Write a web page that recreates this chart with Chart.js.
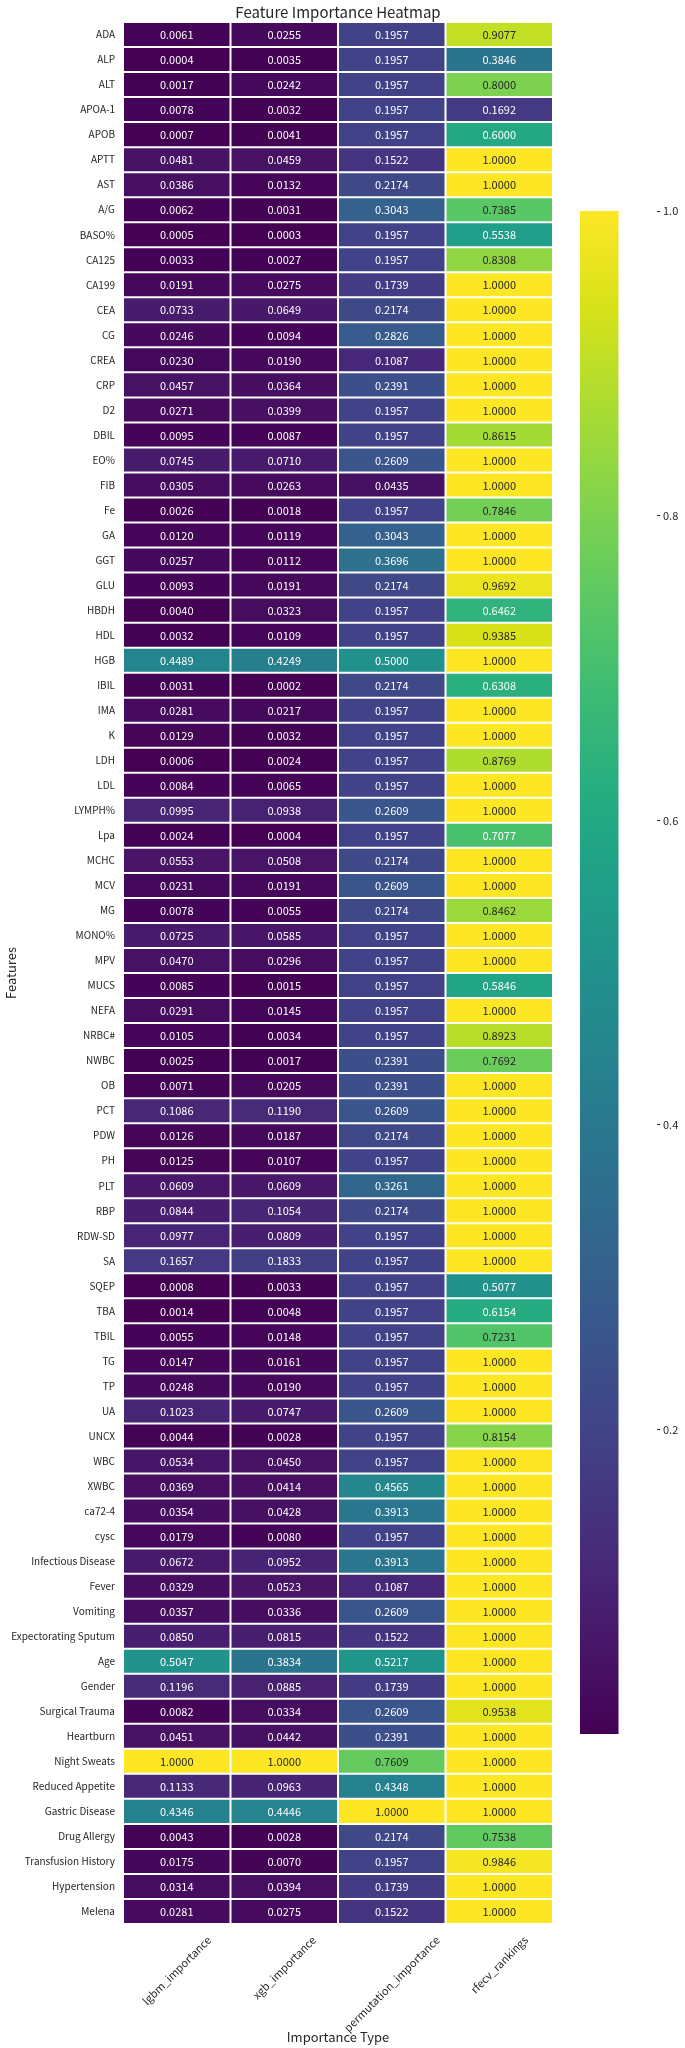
<!DOCTYPE html>
<html><head><meta charset="utf-8">
<script src="https://cdn.jsdelivr.net/npm/chart.js@4.4.1/dist/chart.umd.min.js"></script>
<style>
html,body{margin:0;padding:0;background:#fff;}
#wrap{position:relative;width:685px;height:2048px;overflow:hidden;}
#main{position:absolute;left:0;top:0;width:685px;height:2048px;}
#cb{position:absolute;left:560px;top:190px;width:125px;height:1560px;}
</style></head><body>
<div id="wrap"><canvas id="main" width="685" height="2048"></canvas><canvas id="cb" width="125" height="1560"></canvas></div>
<script>
const features = ['ADA','ALP','ALT','APOA-1','APOB','APTT','AST','A/G','BASO%','CA125','CA199','CEA','CG','CREA','CRP','D2','DBIL','EO%','FIB','Fe','GA','GGT','GLU','HBDH','HDL','HGB','IBIL','IMA','K','LDH','LDL','LYMPH%','Lpa','MCHC','MCV','MG','MONO%','MPV','MUCS','NEFA','NRBC#','NWBC','OB','PCT','PDW','PH','PLT','RBP','RDW-SD','SA','SQEP','TBA','TBIL','TG','TP','UA','UNCX','WBC','XWBC','ca72-4','cysc','Infectious Disease','Fever','Vomiting','Expectorating Sputum','Age','Gender','Surgical Trauma','Heartburn','Night Sweats','Reduced Appetite','Gastric Disease','Drug Allergy','Transfusion History','Hypertension','Melena'];
const columns = ['lgbm_importance','xgb_importance','permutation_importance','rfecv_rankings'];
const lgbm = [0.0061,0.0004,0.0017,0.0078,0.0007,0.0481,0.0386,0.0062,0.0005,0.0033,0.0191,0.0733,0.0246,0.0230,0.0457,0.0271,0.0095,0.0745,0.0305,0.0026,0.0120,0.0257,0.0093,0.0040,0.0032,0.4489,0.0031,0.0281,0.0129,0.0006,0.0084,0.0995,0.0024,0.0553,0.0231,0.0078,0.0725,0.0470,0.0085,0.0291,0.0105,0.0025,0.0071,0.1086,0.0126,0.0125,0.0609,0.0844,0.0977,0.1657,0.0008,0.0014,0.0055,0.0147,0.0248,0.1023,0.0044,0.0534,0.0369,0.0354,0.0179,0.0672,0.0329,0.0357,0.0850,0.5047,0.1196,0.0082,0.0451,1.0000,0.1133,0.4346,0.0043,0.0175,0.0314,0.0281];
const xgb = [0.0255,0.0035,0.0242,0.0032,0.0041,0.0459,0.0132,0.0031,0.0003,0.0027,0.0275,0.0649,0.0094,0.0190,0.0364,0.0399,0.0087,0.0710,0.0263,0.0018,0.0119,0.0112,0.0191,0.0323,0.0109,0.4249,0.0002,0.0217,0.0032,0.0024,0.0065,0.0938,0.0004,0.0508,0.0191,0.0055,0.0585,0.0296,0.0015,0.0145,0.0034,0.0017,0.0205,0.1190,0.0187,0.0107,0.0609,0.1054,0.0809,0.1833,0.0033,0.0048,0.0148,0.0161,0.0190,0.0747,0.0028,0.0450,0.0414,0.0428,0.0080,0.0952,0.0523,0.0336,0.0815,0.3834,0.0885,0.0334,0.0442,1.0000,0.0963,0.4446,0.0028,0.0070,0.0394,0.0275];
const perm = [0.1957,0.1957,0.1957,0.1957,0.1957,0.1522,0.2174,0.3043,0.1957,0.1957,0.1739,0.2174,0.2826,0.1087,0.2391,0.1957,0.1957,0.2609,0.0435,0.1957,0.3043,0.3696,0.2174,0.1957,0.1957,0.5000,0.2174,0.1957,0.1957,0.1957,0.1957,0.2609,0.1957,0.2174,0.2609,0.2174,0.1957,0.1957,0.1957,0.1957,0.1957,0.2391,0.2391,0.2609,0.2174,0.1957,0.3261,0.2174,0.1957,0.1957,0.1957,0.1957,0.1957,0.1957,0.1957,0.2609,0.1957,0.1957,0.4565,0.3913,0.1957,0.3913,0.1087,0.2609,0.1522,0.5217,0.1739,0.2609,0.2391,0.7609,0.4348,1.0000,0.2174,0.1957,0.1739,0.1522];
const rfecv = [0.9077,0.3846,0.8000,0.1692,0.6000,1.0000,1.0000,0.7385,0.5538,0.8308,1.0000,1.0000,1.0000,1.0000,1.0000,1.0000,0.8615,1.0000,1.0000,0.7846,1.0000,1.0000,0.9692,0.6462,0.9385,1.0000,0.6308,1.0000,1.0000,0.8769,1.0000,1.0000,0.7077,1.0000,1.0000,0.8462,1.0000,1.0000,0.5846,1.0000,0.8923,0.7692,1.0000,1.0000,1.0000,1.0000,1.0000,1.0000,1.0000,1.0000,0.5077,0.6154,0.7231,1.0000,1.0000,1.0000,0.8154,1.0000,1.0000,1.0000,1.0000,1.0000,1.0000,1.0000,1.0000,1.0000,1.0000,0.9538,1.0000,1.0000,1.0000,1.0000,0.7538,0.9846,1.0000,1.0000];
const colorbarTicks = [0.2,0.4,0.6,0.8,1.0];

const series = [lgbm, xgb, perm, rfecv];
const vmin = Math.min(...series.flat());
const vmax = Math.max(...series.flat());
const FONT = "'Noto Sans CJK SC','Noto Sans',sans-serif";

const VIR = ['#440154','#48186a','#472d7b','#424086','#3b528b','#33638d','#2c728e','#26828e','#21918c','#1fa088','#28ae80','#3fbc73','#5ec962','#84d44b','#addc30','#d8e219','#fde725'];
function hexRgb(h){return [parseInt(h.slice(1,3),16),parseInt(h.slice(3,5),16),parseInt(h.slice(5,7),16)];}
function viridisRgb(t){
  t = Math.max(0, Math.min(1, t));
  const p = t * 16, i = Math.min(15, Math.floor(p)), f = p - i;
  const a = hexRgb(VIR[i]), b = hexRgb(VIR[i+1]);
  return a.map((v,k)=>Math.round(v + (b[k]-v)*f));
}
function norm(v){return (v - vmin) / (vmax - vmin);}
function cellColor(v){const c = viridisRgb(norm(v)); return `rgb(${c[0]},${c[1]},${c[2]})`;}
function textColor(v){
  const c = viridisRgb(norm(v)).map(x=>{x/=255; return x<=0.03928 ? x/12.92 : Math.pow((x+0.055)/1.055,2.4);});
  const lum = 0.2126*c[0] + 0.7152*c[1] + 0.0722*c[2];
  return lum > 0.408 ? '#262626' : '#ffffff';
}

const heatPlugin = {
  id: 'heatText',
  afterDatasetsDraw(chart){
    const ctx = chart.ctx;
    ctx.save();
    ctx.font = '11px ' + FONT;
    ctx.textAlign = 'center';
    ctx.textBaseline = 'middle';
    series.forEach((vals, d) => {
      const meta = chart.getDatasetMeta(d);
      meta.data.forEach((el, i) => {
        const p = el.getCenterPoint();
        ctx.fillStyle = textColor(vals[i]);
        ctx.fillText(vals[i].toFixed(4), p.x, p.y + 0.5);
      });
    });
    ctx.restore();
  },
  afterDraw(chart){
    const ctx = chart.ctx, ca = chart.chartArea, xs = chart.scales.x;
    ctx.save();
    ctx.fillStyle = '#262626';
    ctx.font = '15px ' + FONT;
    ctx.textAlign = 'center';
    ctx.textBaseline = 'middle';
    ctx.fillText('Feature Importance Heatmap', (ca.left + ca.right) / 2, 12);
    ctx.font = '11px ' + FONT;
    const top = ca.bottom + 10, h = 11;
    columns.forEach((lab, i) => {
      const w = ctx.measureText(lab).width;
      const half = (w + h) / (2 * Math.SQRT2);
      ctx.save();
      ctx.translate(xs.getPixelForValue(i + 0.5), top + half);
      ctx.rotate(-Math.PI / 4);
      ctx.fillText(lab, 0, 0);
      ctx.restore();
    });
    ctx.restore();
  }
};

new Chart(document.getElementById('main'), {
  type: 'bar',
  data: {
    labels: features,
    datasets: series.map((vals, c) => ({
      label: columns[c],
      data: vals.map(() => [c, c + 1]),
      backgroundColor: vals.map(cellColor),
      borderColor: '#ffffff',
      borderWidth: 1,
      borderSkipped: false,
      inflateAmount: 0,
      grouped: false,
      barPercentage: 1,
      categoryPercentage: 1
    }))
  },
  options: {
    indexAxis: 'y',
    responsive: false,
    animation: false,
    devicePixelRatio: 1,
    layout: { padding: { top: 22, right: 132, left: 0, bottom: 0 } },
    plugins: { legend: { display: false }, tooltip: { enabled: false }, title: { display: false } },
    scales: {
      x: {
        type: 'linear', min: 0, max: 4,
        grid: { display: false }, border: { display: false },
        ticks: { display: false },
        title: { display: true, text: 'Importance Type', color: '#262626', font: { family: FONT, size: 13 }, padding: { top: 0, bottom: 3 } },
        afterFit(s){ s.height = 124; }
      },
      y: {
        type: 'category',
        grid: { display: false, drawTicks: false }, border: { display: false },
        ticks: { autoSkip: false, padding: 8, color: '#262626', font: { family: FONT, size: 10 } },
        title: { display: true, text: 'Features', color: '#262626', font: { family: FONT, size: 13 }, padding: { top: 3, bottom: 0 } },
        afterFit(s){ s.width = 123; }
      }
    }
  },
  plugins: [heatPlugin]
});

function cbGradient(ctx){
  const chart = ctx.chart, ca = chart.chartArea;
  if (!ca) return VIR[0];
  const g = chart.ctx.createLinearGradient(0, ca.bottom, 0, ca.top);
  VIR.forEach((c, i) => g.addColorStop(i / 16, c));
  return g;
}

new Chart(document.getElementById('cb'), {
  type: 'bar',
  data: {
    labels: ['cb'],
    datasets: [{ data: [[vmin, vmax]], backgroundColor: cbGradient, borderWidth: 0, inflateAmount: 0, barPercentage: 1, categoryPercentage: 1 }]
  },
  options: {
    responsive: false,
    animation: false,
    devicePixelRatio: 1,
    layout: { padding: { left: 20, top: 21, bottom: 16, right: 0 } },
    plugins: { legend: { display: false }, tooltip: { enabled: false } },
    scales: {
      x: { type: 'category', display: false, offset: false },
      y: {
        type: 'linear', position: 'right', min: vmin, max: vmax,
        afterBuildTicks(s){ s.ticks = colorbarTicks.map(v => ({ value: v })); },
        ticks: { padding: 3, color: '#262626', font: { family: FONT, size: 11 }, callback: v => Number(v).toFixed(1) },
        grid: { drawOnChartArea: false, drawTicks: true, tickLength: 3, color: '#262626' },
        border: { display: false },
        afterFit(s){ s.width = 28; }
      }
    }
  }
});
</script>
</body></html>
